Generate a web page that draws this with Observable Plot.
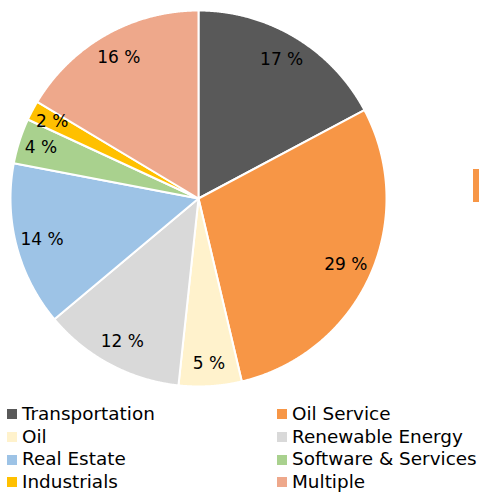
<!DOCTYPE html>
<html><head><meta charset="utf-8">
<script src="https://cdn.jsdelivr.net/npm/d3@7"></script>
<script src="https://cdn.jsdelivr.net/npm/@observablehq/plot@0.6"></script>
<style>
body{margin:0;background:#fff;font-family:"DejaVu Sans",sans-serif;width:479px;height:496px;overflow:hidden;position:relative}
#legend{position:absolute;left:0;top:403px;display:grid;grid-template-columns:270px 209px;font-size:18.4px;line-height:22.7px;color:#000}
.item{display:flex;align-items:center;white-space:nowrap}
.sw{width:10px;height:10px;margin-left:7px;margin-right:5px;flex:none}
#edge{position:absolute;left:473px;top:169px;width:6px;height:33px;background:#F79646}
</style></head><body>
<div id="chart"></div><div id="legend"></div><div id="edge"></div>
<script>
const categories = ["Transportation","Oil Service","Oil","Renewable Energy","Real Estate","Software & Services","Industrials","Multiple"];
const shares = [17.2, 29.1, 5.4, 12.2, 14.1, 3.9, 1.7, 16.4];
const labels = ["17 %","29 %","5 %","12 %","14 %","4 %","2 %","16 %"];
const colors = ["#595959","#F79646","#FFF2CC","#D9D9D9","#9DC3E6","#A9D18E","#FFC000","#EEA88B"];

const total = d3.sum(shares);
const pts = [];
const labelData = [];
let cum = 0;
categories.forEach((name, i) => {
  const a0 = cum / total * 2 * Math.PI;
  cum += shares[i];
  const a1 = cum / total * 2 * Math.PI;
  pts.push({name, x: 0, y: 0});
  const n = Math.max(2, Math.ceil((a1 - a0) / (Math.PI / 720)));
  for (let k = 0; k <= n; k++) {
    const a = a0 + (a1 - a0) * k / n;
    pts.push({name, x: Math.sin(a), y: Math.cos(a)});
  }
  const am = (a0 + a1) / 2;
  const r = shares[i] < 8 ? 0.88 : 0.86;
  labelData.push({name, label: labels[i], x: r * Math.sin(am), y: r * Math.cos(am)});
});

const chart = Plot.plot({
  width: 479, height: 398,
  marginLeft: 10, marginRight: 93, marginTop: 10, marginBottom: 12,
  x: {domain: [-1, 1], axis: null},
  y: {domain: [-1, 1], axis: null},
  color: {domain: categories, range: colors},
  style: {fontFamily: "DejaVu Sans", background: "#fff"},
  marks: [
    Plot.line(pts, {x: "x", y: "y", z: "name", fill: "name", stroke: "white", strokeWidth: 2, strokeLinejoin: "round", curve: "linear-closed"}),
    Plot.text(labelData, {x: "x", y: "y", text: "label", fontSize: 17, fill: "#000"})
  ]
});
document.getElementById("chart").appendChild(chart);

const legend = document.getElementById("legend");
categories.forEach((name, i) => {
  const it = document.createElement("div");
  it.className = "item";
  const sw = document.createElement("span");
  sw.className = "sw";
  sw.style.background = colors[i];
  const t = document.createElement("span");
  t.textContent = name;
  it.appendChild(sw); it.appendChild(t);
  legend.appendChild(it);
});
</script>
</body></html>
